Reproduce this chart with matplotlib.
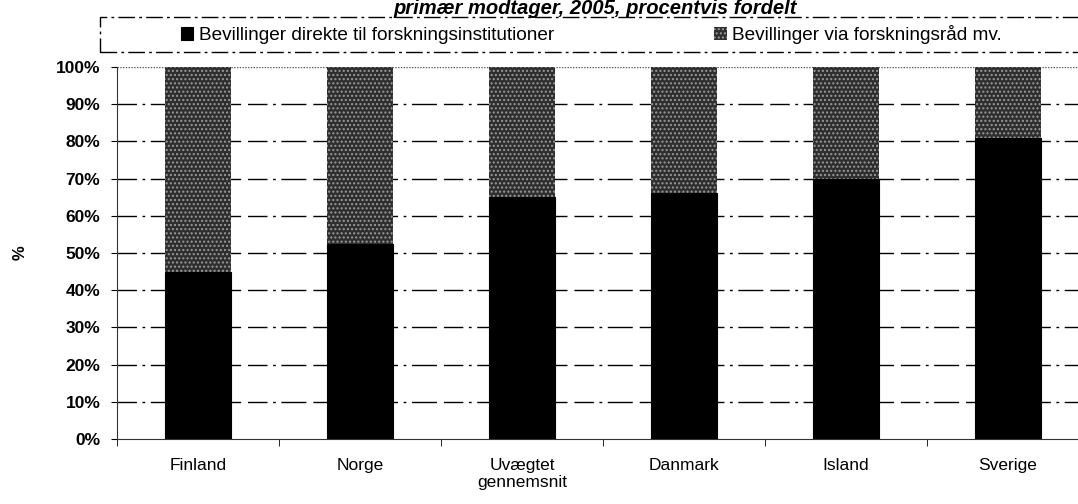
import numpy as np
import matplotlib.pyplot as plt
from matplotlib.patches import Rectangle

plt.rcParams['font.family'] = ['Liberation Sans', 'DejaVu Sans']
plt.rcParams['hatch.linewidth'] = 1.0

# data
lande = ["Finland", "Norge", "Uvægtet\ngennemsnit", "Danmark", "Island", "Sverige"]
direkte = [45, 52.5, 65, 66, 70, 81]
via_raad = [100 - v for v in direkte]
navne = ["Bevillinger direkte til forskningsinstitutioner", "Bevillinger via forskningsråd mv."]

fig = plt.figure(figsize=(10.78, 5.04), dpi=100)
ax = fig.add_axes([117 / 1078, 1 - 439 / 504, 972 / 1078, 372 / 504])

x = np.arange(len(lande))
b1 = ax.bar(x, direkte, width=0.41, color="black", edgecolor="black", linewidth=0.8, zorder=3)
b2 = ax.bar(x, via_raad, bottom=direkte, width=0.41, color="#2e2e2e", edgecolor="#9a9a9a",
            hatch="....", linewidth=0, zorder=3)

ax.set_xlim(-0.5, len(lande) - 0.5)
ax.set_ylim(0, 100)
ax.set_yticks(np.arange(0, 101, 10))
ax.set_yticklabels([f"{v}%" for v in range(0, 101, 10)], fontsize=12.5, fontweight="bold")
ax.set_xticks(x)
ax.set_xticklabels(lande, fontsize=12.5, linespacing=1.1)
ax.set_xticks(np.arange(-0.5, len(lande), 1), minor=True)
ax.tick_params(axis="x", which="major", length=0, pad=14)
ax.tick_params(axis="x", which="minor", length=5, direction="out")
ax.tick_params(axis="y", length=4, direction="out", pad=8)

for v in range(10, 100, 10):
    ax.axhline(v, color="black", lw=1.0, dashes=(14, 4, 2, 4, 18, 5), zorder=1)
ax.axhline(100, color="#555555", lw=1.0, ls=(0, (1, 1)), zorder=1)

for s in ["top", "right"]:
    ax.spines[s].set_visible(False)
ax.spines["left"].set_color("#333333")
ax.spines["bottom"].set_color("#333333")

ax.set_ylabel("%", fontsize=12, fontweight="bold", labelpad=20)

# title (cut at the top edge in the reference)
fig.text(595 / 1078, 1 - 8 / 504, "primær modtager, 2005, procentvis fordelt",
         ha="center", va="center", fontsize=14.5, fontweight="bold", style="italic")

# legend box
fig.patches.append(Rectangle((100 / 1078, 1 - 52 / 504), 1.0, 35 / 504, transform=fig.transFigure,
                             fill=False, edgecolor="black", lw=1.0, ls=(0, (12, 3, 2, 3))))
fig.legend([b1[0], b2[0]], navne, loc="center left", bbox_to_anchor=(164 / 1078, 1 - 35 / 504),
           ncol=2, frameon=False, fontsize=13.7, handlelength=0.65, handleheight=0.65,
           handletextpad=0.3, columnspacing=8.4)

fig.savefig("out.png", dpi=100)
